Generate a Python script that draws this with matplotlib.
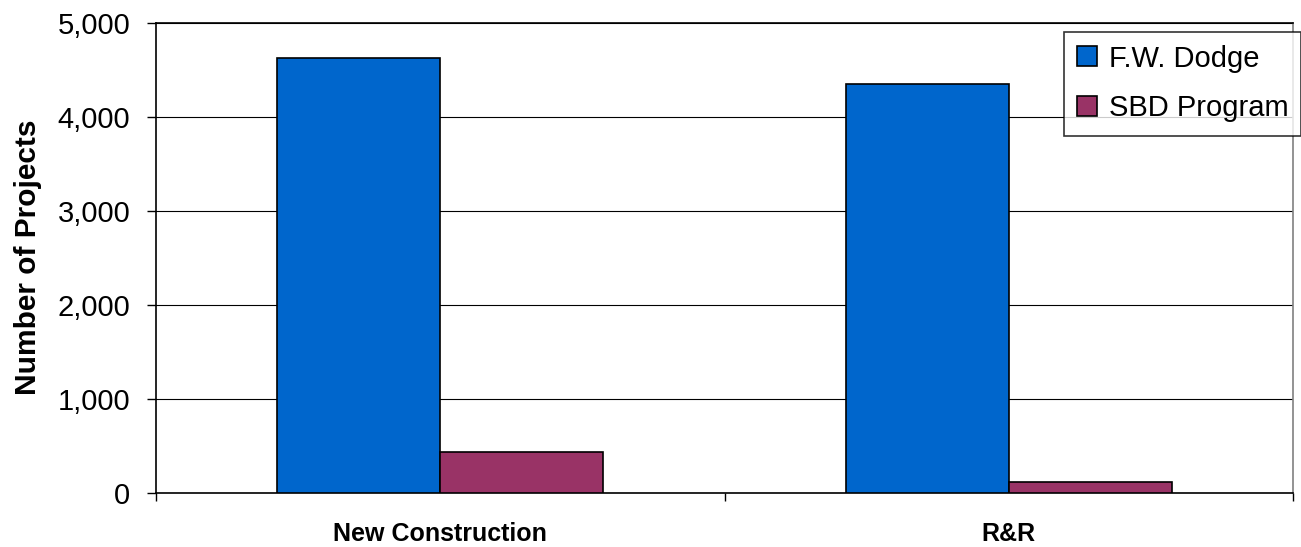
import matplotlib
matplotlib.use("Agg")
import matplotlib.pyplot as plt
import numpy as np

plt.rcParams['font.family'] = ['Liberation Sans', 'DejaVu Sans']

categories = ['New Construction', 'R&R']
dodge = [4625, 4345]
sbd = [430, 110]
series_names = ['F.W. Dodge', 'SBD Program']
colors = ['#0066CC', '#993366']

fig = plt.figure(figsize=(13.01, 5.47), dpi=100)
ax = fig.add_axes([156/1301, 1 - 492.5/547, 1137/1301, 470/547])

x = np.arange(len(categories))
w = 0.287
ax.bar(x - w/2, dodge, w, color=colors[0], edgecolor='black', linewidth=1.2,
       label=series_names[0], zorder=3)
ax.bar(x + w/2, sbd, w, color=colors[1], edgecolor='black', linewidth=1.2,
       label=series_names[1], zorder=3)

ax.set_xlim(-0.5, 1.5)
ax.set_ylim(0, 5000)
ax.set_yticks(np.arange(0, 5001, 1000))
ax.set_yticklabels([f'{v:,}' for v in range(0, 5001, 1000)], fontsize=21)
ax.yaxis.grid(True, color='black', linewidth=0.8, zorder=0)

ax.set_xticks(x)
ax.set_xticklabels(categories, fontsize=18, fontweight='bold')
ax.set_xticks([-0.5, 0.5, 1.5], minor=True)
ax.tick_params(axis='x', which='major', length=0, pad=21)
ax.tick_params(axis='x', which='minor', length=6, width=1, direction='out')
ax.tick_params(axis='y', length=6.5, width=1, pad=12)

ax.set_ylabel('Number of Projects', fontsize=21.5, fontweight='bold')
ax.yaxis.set_label_coords(-0.1005, 0.5)

for s in ax.spines.values():
    s.set_color('black')
    s.set_linewidth(1.2)
ax.spines['right'].set_color('#808080')

leg = fig.legend(loc='upper left', bbox_to_anchor=(1064/1301, 1 - 31.5/547),
                 bbox_transform=fig.transFigure, fontsize=21, frameon=True,
                 fancybox=False, borderaxespad=0, borderpad=0.45,
                 handlelength=0.68, handleheight=0.68, handletextpad=0.4,
                 labelspacing=0.75)
leg.get_frame().set_edgecolor('black')
leg.get_frame().set_linewidth(1.2)

fig.savefig('out.png', dpi=100)
